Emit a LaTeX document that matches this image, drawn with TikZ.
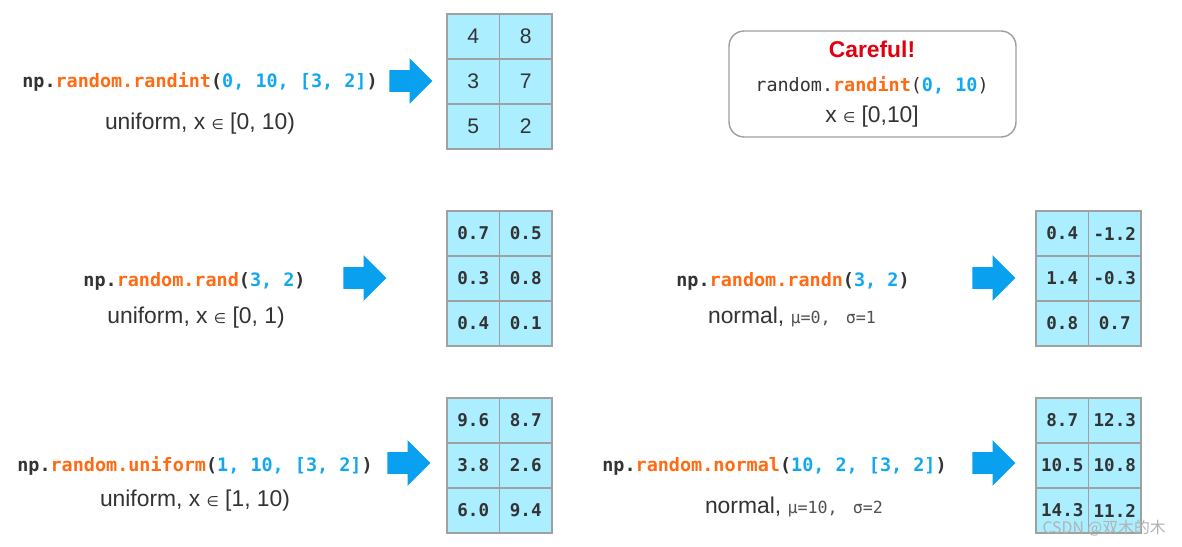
\documentclass[tikz,border=0pt]{standalone}
\usepackage{fontspec}
\setmainfont{Liberation Sans}
\setmonofont{DejaVu Sans Mono}
\newfontfamily\cjkfont{Noto Sans CJK SC}
\newfontfamily\symfont{DejaVu Sans}
\usetikzlibrary{shapes.arrows, positioning}
\definecolor{npdark}{HTML}{333333}
\definecolor{nporange}{HTML}{FF6A13}
\definecolor{npblue}{HTML}{12A8F0}
\definecolor{npcell}{HTML}{AAEEFF}
\definecolor{npgrid}{HTML}{A0A0A0}
\definecolor{nparrow}{HTML}{0AA0F0}
\definecolor{npred}{HTML}{E00010}
\newcommand{\fname}[1]{{\color{nporange}#1}}
\newcommand{\fargs}[1]{{\color{npblue}#1}}
\newcommand{\elt}{{\symfont\fontsize{8}{8}\selectfont ∈}}
\newcommand{\musig}[1]{{\ttfamily\fontsize{9.5}{10}\selectfont\color{npdark!85}#1}}
% 3x2 grid of values, #1 name, #2/#3 top left corner, #4 font, #5 values
\newcommand{\valgrid}[5]{%
  \foreach \v [count=\i from 0] in {#5} {
    \pgfmathtruncatemacro\cc{mod(\i,2)}
    \pgfmathtruncatemacro\rr{\i/2}
    \node[cellbox, font=#4] (#1-\i) at ({#2+26.25+52.5*\cc},{#3+22.5+45*\rr}) {\v};}}

\begin{document}
\begin{tikzpicture}[x=0.02cm, y=-0.02cm,
    code/.style={font=\ttfamily\bfseries\fontsize{10.5}{12}\selectfont, text=npdark, inner sep=0pt},
    lbl/.style={font=\fontsize{13}{15}\selectfont, text=npdark, inner sep=0pt},
    cellbox/.style={draw=npgrid, fill=npcell, line width=0.6pt, minimum width=1.05cm,
                    minimum height=0.9cm, inner sep=0pt, text=npdark},
    blockarrow/.style={single arrow, fill=nparrow, draw=none, minimum height=0.86cm,
                       single arrow head extend=0.24cm, single arrow head indent=0pt,
                       inner xsep=0pt, inner ysep=0.21cm}]
  \useasboundingbox[fill=white] (0,0) rectangle (1182,547);

  % randint
  \node[code] (c1) at (200,82) {np.\fname{random.randint}(\fargs{0, 10, [3, 2]})};
  \node[lbl] (l1) at (200,124) {uniform, x \elt\ [0, 10)};
  \node[blockarrow] (a1) at (405.5,81) {};
  \valgrid{g1}{447}{14}{\fontsize{12}{14}\selectfont}{4,8,3,7,5,2}

  % careful box
  \node[draw=gray!75, line width=0.8pt, rounded corners=0.3cm, minimum width=5.74cm,
        minimum height=2.12cm] (box) at (872.5,84) {};
  \node[font=\bfseries\fontsize{13}{15}\selectfont, text=npred, inner sep=0pt] (warn) at (872,49) {Careful!};
  \node[code] (c0) at (872,85) {\mdseries random.\fname{\bfseries randint}(\fargs{\bfseries 0, 10})};
  \node[lbl] (l0) at (872,117) {x \elt\ [0,10]};

  % rand
  \node[code] (c2) at (194.5,281) {np.\fname{random.rand}(\fargs{3, 2})};
  \node[lbl] (l2) at (196,318) {uniform, x \elt\ [0, 1)};
  \node[blockarrow] (a2) at (359.5,278) {};
  \valgrid{g2}{447}{211}{\ttfamily\bfseries\fontsize{10}{12}\selectfont}{0.7,0.5,0.3,0.8,0.4,0.1}

  % randn
  \node[code] (c3) at (793,281) {np.\fname{random.randn}(\fargs{3, 2})};
  \node[lbl] (l3) at (792,317) {normal, \musig{μ=0,\ \hspace{0.3em}σ=1}};
  \node[blockarrow] (a3) at (988.5,278) {};
  \valgrid{g3}{1036}{211}{\ttfamily\bfseries\fontsize{10}{12}\selectfont}{0.4,-1.2,1.4,-0.3,0.8,0.7}

  % uniform
  \node[code] (c4) at (195,466) {np.\fname{random.uniform}(\fargs{1, 10, [3, 2]})};
  \node[lbl] (l4) at (195,501) {uniform, x \elt\ [1, 10)};
  \node[blockarrow] (a4) at (403.5,463) {};
  \valgrid{g4}{447}{398}{\ttfamily\bfseries\fontsize{10}{12}\selectfont}{9.6,8.7,3.8,2.6,6.0,9.4}

  % normal
  \node[code] (c5) at (774.5,466) {np.\fname{random.normal}(\fargs{10, 2, [3, 2]})};
  \node[lbl] (l5) at (794,507) {normal, \musig{μ=10,\ \hspace{0.3em}σ=2}};
  \node[blockarrow] (a5) at (988.5,463) {};
  \valgrid{g5}{1036}{398}{\ttfamily\bfseries\fontsize{10}{12}\selectfont}{8.7,12.3,10.5,10.8,14.3,11.2}

  \node[anchor=east, text=gray!60, font=\cjkfont\fontsize{9}{10}\selectfont, inner sep=0pt] (wm) at (1166,528) {CSDN @双木的木};
\end{tikzpicture}
\end{document}
